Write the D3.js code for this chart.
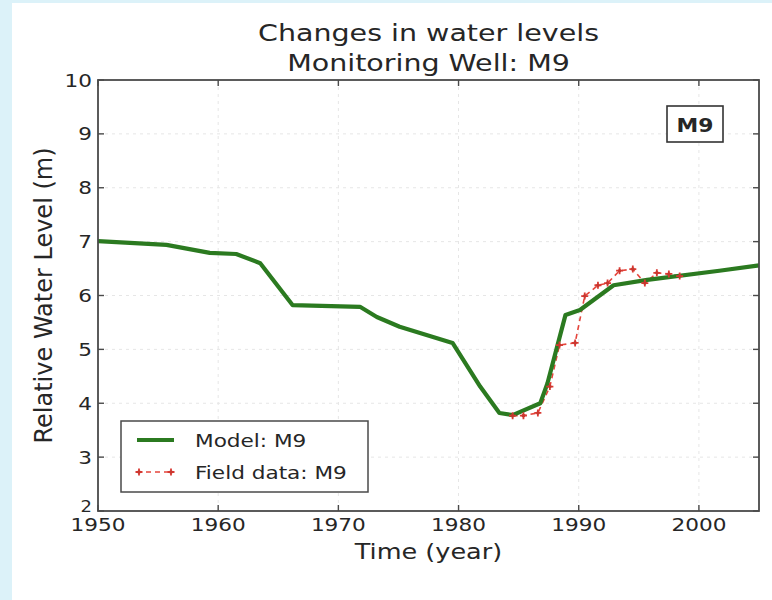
<!DOCTYPE html>
<html>
<head>
<meta charset="utf-8">
<script src="https://cdn.jsdelivr.net/npm/d3@7"></script>
<style>
  html, body { margin: 0; padding: 0; background: #fff; }
  svg { display: block; }
  text { font-family: "DejaVu Sans", sans-serif; fill: #262626; }
</style>
</head>
<body>
<svg id="chart" width="772" height="600"></svg>
<script>
// Simulated water level (model) for well M9
const modelYears  = [1950, 1955.7, 1959.3, 1961.5, 1963.5, 1966.2, 1971.8, 1973.2, 1975.1, 1979.5, 1981.8, 1983.4, 1984.5, 1986.8, 1987.4, 1988.9, 1990.1, 1992.9, 1995.7, 2001.7, 2005];
const modelLevels = [7.01, 6.94, 6.79, 6.77, 6.6, 5.82, 5.79, 5.6, 5.42, 5.12, 4.31, 3.82, 3.78, 4.0, 4.37, 5.64, 5.73, 6.19, 6.29, 6.46, 6.56];

// Observed field measurements at well M9
const fieldYears  = [1984.5, 1985.4, 1986.6, 1987.6, 1988.4, 1989.7, 1990.5, 1991.6, 1992.4, 1993.4, 1994.5, 1995.5, 1996.5, 1997.5, 1998.4];
const fieldLevels = [3.77, 3.77, 3.82, 4.31, 5.08, 5.12, 5.99, 6.19, 6.23, 6.46, 6.49, 6.23, 6.42, 6.40, 6.36];

const xTicks = [1950, 1960, 1970, 1980, 1990, 2000];
const yTicks = [2, 3, 4, 5, 6, 7, 8, 9, 10];

const titleLines = ["Changes in water levels", "Monitoring Well: M9"];
const xLabel = "Time (year)";
const yLabel = "Relative Water Level (m)";
const seriesNames = ["Model: M9", "Field data: M9"];
const wellTag = "M9";

const W = 772, H = 600;
const margin = { left: 98, right: 13, top: 80, bottom: 89 };
const svg = d3.select("#chart");

// page background edges
svg.append("rect").attr("x", 0).attr("y", 0).attr("width", W).attr("height", H).attr("fill", "#fff");
svg.append("rect").attr("x", 0).attr("y", 0).attr("width", 12).attr("height", H).attr("fill", "#dcf2f9");
svg.append("rect").attr("x", 0).attr("y", 0).attr("width", W).attr("height", 3).attr("fill", "#dcf2f9");

const x = d3.scaleLinear().domain([1950, 2005]).range([margin.left, W - margin.right]);
const y = d3.scaleLinear().domain([2, 10]).range([H - margin.bottom, margin.top]);
const [x0, x1] = x.range();
const [y0, y1] = y.range();

const SX = 1.2; // horizontal stretch of lettering

function stretchedText(parent, px, py, str, opts) {
  const g = parent.append("g").attr("transform", `translate(${px},${py}) scale(${opts.sx || SX},1)`);
  return g.append("text")
    .attr("text-anchor", opts.anchor || "start")
    .style("font-size", opts.size + "px")
    .style("font-weight", opts.weight || "normal")
    .text(str);
}

// grid
const grid = svg.append("g");
grid.selectAll("line.gx").data(xTicks.slice(1)).join("line")
  .attr("x1", d => x(d)).attr("x2", d => x(d)).attr("y1", y1).attr("y2", y0)
  .attr("stroke", "#e6e6e6").attr("stroke-width", 1).attr("stroke-dasharray", "3,4");
grid.selectAll("line.gy").data(yTicks.slice(1, -1)).join("line")
  .attr("x1", x0).attr("x2", x1).attr("y1", d => y(d)).attr("y2", d => y(d))
  .attr("stroke", "#e6e6e6").attr("stroke-width", 1).attr("stroke-dasharray", "3,4");

// axes with inward ticks on all four sides
const tickLen = 6;
const axG = svg.append("g").attr("stroke", "#4a4a4a").attr("stroke-width", 1.4);
xTicks.forEach(t => {
  axG.append("line").attr("x1", x(t)).attr("x2", x(t)).attr("y1", y0).attr("y2", y0 - tickLen);
  axG.append("line").attr("x1", x(t)).attr("x2", x(t)).attr("y1", y1).attr("y2", y1 + tickLen);
});
yTicks.forEach(t => {
  axG.append("line").attr("x1", x0).attr("x2", x0 + tickLen).attr("y1", y(t)).attr("y2", y(t));
  axG.append("line").attr("x1", x1).attr("x2", x1 - tickLen).attr("y1", y(t)).attr("y2", y(t));
});

const labels = svg.append("g");
xTicks.forEach(t => stretchedText(labels, x(t), y0 + 20, String(t), { anchor: "middle", size: 18 }));
yTicks.forEach(t => stretchedText(labels, x0 - 6, y(t) + (t === 2 ? 1 : 6.5), String(t), { anchor: "end", size: t === 2 ? 15 : 18 }));

// series
const modelPts = modelYears.map((yr, i) => [yr, modelLevels[i]]);
const fieldPts = fieldYears.map((yr, i) => [yr, fieldLevels[i]]);
const line = d3.line().x(d => x(d[0])).y(d => y(d[1]));

const plot = svg.append("g");
plot.append("path").attr("d", line(fieldPts)).attr("fill", "none")
  .attr("stroke", "#e5453c").attr("stroke-width", 1.6).attr("stroke-dasharray", "5,4");
plot.append("path").attr("d", line(modelPts)).attr("fill", "none")
  .attr("stroke", "#2b7a20").attr("stroke-width", 4.2).attr("stroke-linejoin", "round");
function plusMarker(g, cx, cy) {
  g.append("path").attr("d", `M${cx - 3.5},${cy}H${cx + 3.5}M${cx},${cy - 3.5}V${cy + 3.5}`)
    .attr("stroke", "#d93a33").attr("stroke-width", 1.8);
  g.append("circle").attr("cx", cx).attr("cy", cy).attr("r", 1.8).attr("fill", "#c8372f");
}
fieldPts.forEach(d => plusMarker(plot, x(d[0]), y(d[1])));

// frame
svg.append("rect").attr("x", x0).attr("y", y1).attr("width", x1 - x0).attr("height", y0 - y1)
  .attr("fill", "none").attr("stroke", "#4a4a4a").attr("stroke-width", 1.8);

// titles
stretchedText(svg, (x0 + x1) / 2, 41, titleLines[0], { anchor: "middle", size: 23, sx: 1.24 });
stretchedText(svg, (x0 + x1) / 2, 71, titleLines[1], { anchor: "middle", size: 23, sx: 1.24 });
stretchedText(svg, (x0 + x1) / 2, 559, xLabel, { anchor: "middle", size: 22, sx: 1.16 });
svg.append("text").attr("transform", `translate(52,${(y0 + y1) / 2}) rotate(-90)`)
  .attr("text-anchor", "middle").style("font-size", "24px").text(yLabel);

// well tag box
const tag = svg.append("g");
tag.append("rect").attr("x", 667).attr("y", 106).attr("width", 56).attr("height", 36)
  .attr("fill", "#fff").attr("stroke", "#333").attr("stroke-width", 1.6);
stretchedText(tag, 695, 132, wellTag, { anchor: "middle", size: 19, weight: "bold", sx: 1.15 });

// legend
const lg = svg.append("g");
lg.append("rect").attr("x", 121).attr("y", 421).attr("width", 247).attr("height", 71)
  .attr("fill", "#fff").attr("stroke", "#4a4a4a").attr("stroke-width", 1.5);
lg.append("line").attr("x1", 137).attr("x2", 174).attr("y1", 440).attr("y2", 440)
  .attr("stroke", "#2b7a20").attr("stroke-width", 4.2);
lg.append("line").attr("x1", 137).attr("x2", 174).attr("y1", 472).attr("y2", 472)
  .attr("stroke", "#e5453c").attr("stroke-width", 1.6).attr("stroke-dasharray", "5,4");
plusMarker(lg, 139, 472);
plusMarker(lg, 171, 472);
stretchedText(lg, 195, 447, seriesNames[0], { size: 18 });
stretchedText(lg, 195, 479, seriesNames[1], { size: 18 });
</script>
</body>
</html>
